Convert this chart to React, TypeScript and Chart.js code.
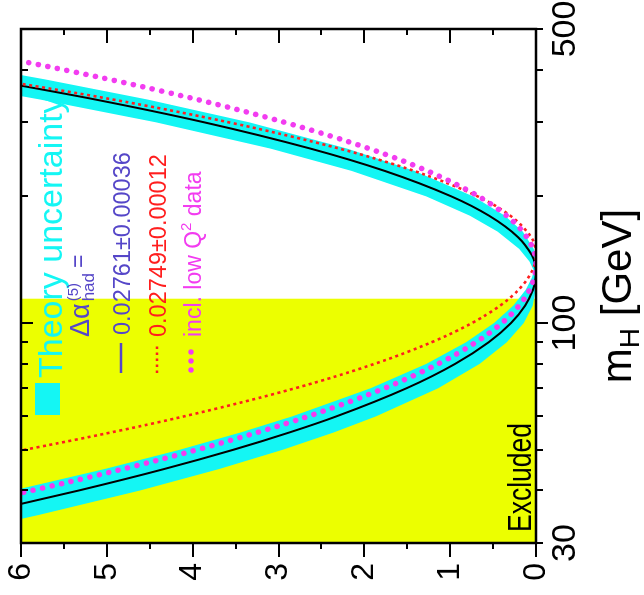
import React, { useEffect, useRef } from 'react';
import { Chart, registerables } from 'chart.js';

Chart.register(...registerables);

const FONT = '"Liberation Sans", Arial, Helvetica, sans-serif';
// The chart is laid out upright (mH across, Δχ² up) and then turned a quarter turn.
const CW = 595;
const CH = 644;

const YELLOW = '#ecff00';
const CYAN = '#14f6f4';
const BLUE = '#5546c8';
const RED = '#ff1e1e';
const MAGENTA = '#f23cf0';

const excludedLimit = 114.4;

// Δχ² curve, Δα_had^(5) = 0.02761 ± 0.00036
const mhBlack = [36, 37, 40, 45, 50, 55, 60, 70, 80, 90, 100, 110, 120, 126, 132, 138, 145, 160, 180, 200, 230, 260, 300, 340, 380];
const chi2Black = [6.306, 6.04, 5.325, 4.328, 3.523, 2.866, 2.325, 1.507, 0.94, 0.552, 0.291, 0.126, 0.035, 0.009, 0.0, 0.011, 0.049, 0.209, 0.548, 0.986, 1.764, 2.633, 3.864, 5.136, 6.417];

// Δα_had^(5) = 0.02749 ± 0.00012
const mhRed = [48, 50, 55, 60, 70, 80, 90, 100, 110, 120, 130, 138, 146, 153, 160, 180, 200, 230, 260, 300, 340, 380];
const chi2Red = [6.416, 5.953, 4.942, 4.101, 2.805, 1.88, 1.218, 0.746, 0.419, 0.202, 0.072, 0.017, 0.0, 0.014, 0.056, 0.3, 0.679, 1.421, 2.296, 3.578, 4.934, 6.32];

// incl. low Q² data
const mhLowQ2 = [37, 40, 45, 50, 55, 60, 70, 80, 90, 100, 110, 120, 130, 138, 150, 165, 180, 200, 230, 260, 300, 340, 380, 420, 430];
const chi2LowQ2 = [6.634, 5.871, 4.808, 3.946, 3.24, 2.656, 1.765, 1.139, 0.7, 0.398, 0.197, 0.075, 0.014, 0.0, 0.034, 0.155, 0.343, 0.668, 1.267, 1.949, 2.928, 3.949, 4.984, 6.016, 6.275];

// Theory uncertainty band: outer edge (lowest Δχ²) and inner edge (highest Δχ²)
const mhBandOuter = [33, 35, 40, 45, 50, 55, 60, 70, 80, 90, 100, 110, 121.7, 140.1, 150, 165, 180, 200, 230, 260, 300, 340, 380, 400];
const chi2BandOuter = [6.346, 5.786, 4.612, 3.688, 2.948, 2.35, 1.863, 1.14, 0.656, 0.34, 0.144, 0.038, 0.0, 0.0, 0.027, 0.155, 0.363, 0.731, 1.416, 2.204, 3.34, 4.529, 5.736, 6.341];
const mhBandInner = [40, 45, 50, 55, 60, 70, 80, 90, 100, 110, 120, 128, 133, 140, 150, 165, 180, 200, 230, 260, 300, 340, 360];
const chi2BandInner = [6.089, 5.02, 4.149, 3.433, 2.839, 1.925, 1.276, 0.815, 0.489, 0.265, 0.12, 0.05, 0.022, 0.076, 0.194, 0.448, 0.772, 1.279, 2.15, 3.1, 4.426, 5.781, 6.459];

const mhTickValues = [30, 40, 50, 60, 70, 80, 90, 100, 200, 300, 400, 500];
const mhTickLabels = [30, 100, 500];
const chi2TickValues = [0, 0.5, 1, 1.5, 2, 2.5, 3, 3.5, 4, 4.5, 5, 5.5, 6];

const toPoints = (xs: number[], ys: number[]) => xs.map((x, i) => ({ x, y: ys[i] }));

// Closed outline of the band: along the outer edge, back along the inner edge.
const bandOutline = [
  ...toPoints(mhBandOuter, chi2BandOuter),
  ...toPoints(mhBandInner, chi2BandInner).reverse(),
];

const framePlugin = {
  id: 'frameTicks',
  afterDatasetsDraw(chart: any) {
    const { ctx, chartArea: a, scales } = chart;
    const xs = scales.x;
    const ys = scales.y;
    ctx.save();
    ctx.strokeStyle = '#000';
    ctx.lineWidth = 2;
    ctx.beginPath();
    for (const v of chi2TickValues) {
      const py = Math.round(ys.getPixelForValue(v));
      const len = Number.isInteger(v) ? 14 : 6;
      ctx.moveTo(a.left - len, py);
      ctx.lineTo(a.left, py);
      ctx.moveTo(a.right, py);
      ctx.lineTo(a.right - len, py);
    }
    for (const m of mhTickValues) {
      const px = Math.round(xs.getPixelForValue(m));
      const len = m === 100 ? 12 : 7;
      ctx.moveTo(px, a.bottom);
      ctx.lineTo(px, a.bottom + len);
      ctx.moveTo(px, a.top);
      ctx.lineTo(px, a.top + len);
    }
    ctx.stroke();
    ctx.lineWidth = 2.5;
    ctx.strokeRect(a.left, a.top, a.right - a.left, a.bottom - a.top);
    ctx.restore();
  },
};

function drawRuns(ctx: CanvasRenderingContext2D, x: number, runs: { t: string; size: number; dy: number }[], base: number) {
  let cx = x;
  for (const r of runs) {
    ctx.font = `${r.size}px ${FONT}`;
    ctx.fillText(r.t, cx, base + r.dy);
    cx += ctx.measureText(r.t).width;
  }
  return cx;
}

const textPlugin = {
  id: 'annotations',
  afterDraw(chart: any) {
    const { ctx } = chart;
    ctx.save();
    ctx.textBaseline = 'alphabetic';
    ctx.textAlign = 'left';

    // Theory uncertainty
    ctx.fillStyle = CYAN;
    ctx.fillRect(180, 35, 32, 25);
    ctx.font = `34px ${FONT}`;
    ctx.fillText('Theory uncertainty', 217, 62);

    // Δα_had^(5) =
    ctx.fillStyle = BLUE;
    ctx.font = `27px ${FONT}`;
    ctx.fillText('\u0394\u03b1', 258, 89);
    const after = 258 + ctx.measureText('\u0394\u03b1').width + 2;
    ctx.font = `15px ${FONT}`;
    ctx.fillText('(5)', after, 78);
    const wSup = ctx.measureText('(5)').width;
    ctx.font = `17px ${FONT}`;
    ctx.fillText('had', after, 94);
    const wSub = ctx.measureText('had').width;
    ctx.font = `23px ${FONT}`;
    ctx.fillText('=', after + Math.max(wSup, wSub) + 5, 86);

    // solid curve entry
    ctx.strokeStyle = BLUE;
    ctx.lineWidth = 2.5;
    ctx.beginPath();
    ctx.moveTo(222, 121);
    ctx.lineTo(252, 121);
    ctx.stroke();
    ctx.font = `23.5px ${FONT}`;
    ctx.fillText('0.02761\u00b10.00036', 260, 130);

    // dotted red entry
    ctx.strokeStyle = RED;
    ctx.fillStyle = RED;
    ctx.setLineDash([2.5, 3.5]);
    ctx.beginPath();
    ctx.moveTo(222, 157);
    ctx.lineTo(250, 157);
    ctx.stroke();
    ctx.setLineDash([]);
    ctx.fillText('0.02749\u00b10.00012', 258, 166);

    // low Q² entry
    ctx.fillStyle = MAGENTA;
    for (const u of [225, 234, 243]) {
      ctx.beginPath();
      ctx.arc(u, 191, 2.7, 0, Math.PI * 2);
      ctx.fill();
    }
    drawRuns(ctx, 258, [
      { t: 'incl. low Q', size: 23, dy: 0 },
      { t: '2', size: 15, dy: -10 },
      { t: ' data', size: 23, dy: 0 },
    ], 201);

    // Excluded (narrow lettering)
    ctx.fillStyle = '#000';
    ctx.font = `34px ${FONT}`;
    ctx.save();
    ctx.translate(63, 531);
    ctx.scale(0.78, 1);
    ctx.fillText('Excluded', 0, 0);
    ctx.restore();

    // mH axis title
    const runs = [
      { t: 'm', size: 42, dy: 0 },
      { t: 'H', size: 28, dy: 8 },
      { t: ' [GeV]', size: 42, dy: 0 },
    ];
    let total = 0;
    for (const r of runs) {
      ctx.font = `${r.size}px ${FONT}`;
      total += ctx.measureText(r.t).width;
    }
    drawRuns(ctx, 299 - total / 2, runs, 631);
    ctx.restore();
  },
};

export default function App() {
  const ref = useRef<HTMLCanvasElement | null>(null);

  useEffect(() => {
    const canvas = ref.current;
    if (!canvas) return;
    const chart = new Chart(canvas, {
      type: 'line',
      data: {
        datasets: [
          {
            label: 'Excluded',
            data: [{ x: 30, y: 6 }, { x: excludedLimit, y: 6 }],
            fill: 'origin',
            backgroundColor: YELLOW,
            borderColor: 'rgba(0,0,0,0)',
            borderWidth: 0,
            pointRadius: 0,
            order: 10,
          },
          {
            label: 'Theory uncertainty',
            data: bandOutline,
            fill: 'shape',
            backgroundColor: CYAN,
            borderColor: 'rgba(0,0,0,0)',
            borderWidth: 0,
            pointRadius: 0,
            tension: 0,
            order: 9,
          },
          {
            label: '0.02761±0.00036',
            data: toPoints(mhBlack, chi2Black),
            borderColor: '#000',
            borderWidth: 2,
            pointRadius: 0,
            fill: false,
            cubicInterpolationMode: 'monotone',
            order: 3,
          },
          {
            label: '0.02749±0.00012',
            data: toPoints(mhRed, chi2Red),
            borderColor: RED,
            borderWidth: 2.6,
            borderDash: [3, 3.5],
            pointRadius: 0,
            fill: false,
            cubicInterpolationMode: 'monotone',
            order: 2,
          },
          {
            label: 'incl. low Q² data',
            data: toPoints(mhLowQ2, chi2LowQ2),
            borderColor: MAGENTA,
            borderWidth: 5.5,
            borderDash: [0.1, 9.6],
            borderCapStyle: 'round',
            pointRadius: 0,
            fill: false,
            cubicInterpolationMode: 'monotone',
            order: 1,
          },
        ],
      },
      options: {
        animation: false,
        responsive: false,
        devicePixelRatio: 1,
        layout: { padding: { top: 21, right: 29, left: 0, bottom: 0 } },
        plugins: {
          legend: { display: false },
          tooltip: { enabled: false },
        },
        scales: {
          x: {
            type: 'logarithmic',
            position: 'bottom',
            min: 30,
            max: 500,
            afterBuildTicks: (scale: any) => {
              scale.ticks = mhTickValues.map((value) => ({ value }));
            },
            afterFit: (scale: any) => {
              scale.height = 108;
              scale.paddingLeft = 0;
              scale.paddingRight = 0;
            },
            ticks: {
              autoSkip: false,
              maxRotation: 0,
              minRotation: 0,
              padding: 9,
              color: '#000',
              font: { family: FONT, size: 34 },
              callback: (value: any) => (mhTickLabels.includes(Number(value)) ? String(value) : ''),
            },
            grid: { display: false, drawTicks: false },
            border: { display: false },
          },
          y: {
            type: 'linear',
            min: 0,
            max: 6,
            afterFit: (scale: any) => {
              scale.width = 52;
              scale.paddingTop = 0;
              scale.paddingBottom = 0;
            },
            ticks: {
              stepSize: 1,
              padding: 20,
              color: '#000',
              font: { family: FONT, size: 32 },
            },
            grid: { display: false, drawTicks: false },
            border: { display: false },
          },
        },
      },
      plugins: [framePlugin, textPlugin],
    } as any);
    return () => chart.destroy();
  }, []);

  return (
    <div
      style={{
        position: 'fixed',
        left: 0,
        top: 0,
        width: 644,
        height: 595,
        overflow: 'hidden',
        background: '#fff',
      }}
    >
      <div
        style={{
          position: 'absolute',
          left: 0,
          top: 0,
          width: CW,
          height: CH,
          transformOrigin: '0 0',
          transform: `translateY(${CW}px) rotate(-90deg)`,
        }}
      >
        <canvas ref={ref} width={CW} height={CH} style={{ width: CW, height: CH, display: 'block' }} />
      </div>
    </div>
  );
}
